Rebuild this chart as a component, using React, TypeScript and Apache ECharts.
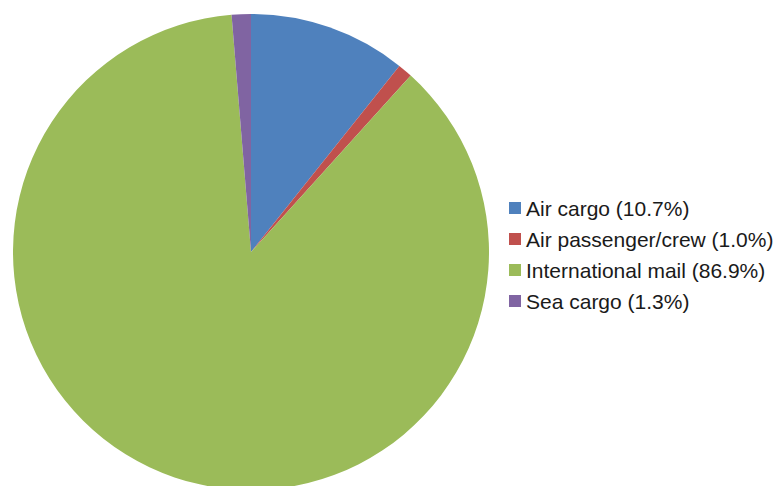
import React, { useEffect, useRef } from "react";
import * as echarts from "echarts";

const categories = ["Air cargo", "Air passenger/crew", "International mail", "Sea cargo"];
const values = [10.7, 1.0, 86.9, 1.3];
const colors = ["#4F81BD", "#C0504D", "#9BBB59", "#8064A2"];

export default function App() {
  const ref = useRef<HTMLDivElement>(null);
  useEffect(() => {
    if (!ref.current) return;
    const chart = echarts.init(ref.current, undefined, { renderer: "svg" });
    const data = categories.map((name, i) => ({ name, value: values[i], itemStyle: { color: colors[i] } }));
    chart.setOption({
      animation: false,
      backgroundColor: "#ffffff",
      legend: {
        orient: "vertical",
        left: 504,
        top: 192,
        itemWidth: 12,
        itemHeight: 12,
        itemGap: 9,
        icon: "rect",
        data: categories,
        textStyle: { fontFamily: "Liberation Sans, Arial", fontSize: 21, color: "#1a1a1a", lineHeight: 22 },
        formatter: (name: string) => {
          const i = categories.indexOf(name);
          return `${name} (${values[i].toFixed(1)}%)`;
        },
      },
      series: [
        {
          type: "pie",
          center: [251, 252],
          radius: [0, 238],
          startAngle: 90,
          clockwise: true,
          label: { show: false },
          labelLine: { show: false },
          itemStyle: { borderWidth: 0 },
          emphasis: { disabled: true },
          data,
        },
      ],
    });
    return () => chart.dispose();
  }, []);
  return (
    <div
      ref={ref}
      style={{ position: "fixed", left: 0, top: 0, width: 782, height: 486 }}
    />
  );
}
